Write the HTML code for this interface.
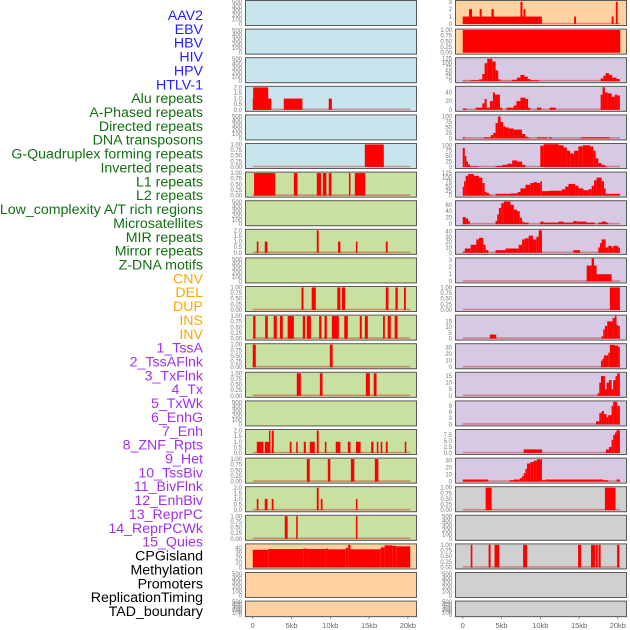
<!DOCTYPE html>
<html><head><meta charset="utf-8">
<style>
html,body{margin:0;padding:0;background:#fff;}
svg{display:block;font-family:"Liberation Sans",sans-serif;}
</style></head>
<body>
<svg id="chart" width="630" height="630" viewBox="0 0 630 630" xmlns="http://www.w3.org/2000/svg"></svg>
<script>
// ---------- labels ----------
const labels = ["AAV2","EBV","HBV","HIV","HPV","HTLV-1","Alu repeats","A-Phased repeats","Directed repeats","DNA transposons","G-Quadruplex forming repeats","Inverted repeats","L1 repeats","L2 repeats","Low_complexity A/T rich regions","Microsatellites","MIR repeats","Mirror repeats","Z-DNA motifs","CNV","DEL","DUP","INS","INV","1_TssA","2_TssAFlnk","3_TxFlnk","4_Tx","5_TxWk","6_EnhG","7_Enh","8_ZNF_Rpts","9_Het","10_TssBiv","11_BivFlnk","12_EnhBiv","13_ReprPC","14_ReprPCWk","15_Quies","CPGisland","Methylation","Promoters","ReplicationTiming","TAD_boundary"];
const labelGroups = [6,13,5,15,5];
const groupColors = ["#1f1fff","#127012","#ffa500","#a030f0","#000000"];

// ---------- x axis ----------
const xTicks = [0,5,10,15,20];
const xTickLabels = ["0","5kb","10kb","15kb","20kb"];
const dataEnd = 20.3;

// ---------- y tick arrays ----------
const t500 = [0,100,200,300,400,500];
const t2 = [0,0.5,1.0,1.5,2.0];
const t2Labels = ["0.0","0.5","1.0","1.5","2.0"];
const t1 = [0,0.25,0.5,0.75,1.0];
const t1Labels = ["0.00","0.25","0.50","0.75","1.00"];

// ---------- left column data: [startKb, endKb, value] ----------
const L_alu = [[0,2.4,1],[0.05,2.0,2],[4.0,6.4,1],[9.8,10.2,1]];
const L_gquad = [[14.45,16.9,1]];
const L_l1 = [[0.17,2.9,1],[5.3,5.77,1],[8.26,8.8,1],[9.03,9.5,1],[9.8,10.15,1],[12.4,12.6,1],[13.16,14.5,1]];
const L_mir = [[0.52,0.73,1],[1.55,1.9,1],[8.26,8.5,2],[11.0,11.3,1],[13.3,13.5,1],[17.16,17.4,1]];
const L_del = [[6.28,6.54,1],[7.6,8.13,1],[10.9,11.3,1],[11.5,11.9,1],[17.16,17.5,1],[18.4,18.7,1],[19.5,19.74,1]];
const L_ins = [[0.05,0.35,1],[1.6,1.94,1],[2.7,3.1,1],[3.5,3.87,1],[4.5,5.3,1],[6.45,6.75,1],[6.97,7.5,1],[8.56,8.86,1],[9.25,9.55,1],[10.2,11.1,1],[11.8,12.26,1],[13.8,14.06,1],[14.45,14.84,1],[16.8,17.03,1],[17.4,17.8,1],[18.3,18.67,1]];
const L_tssa = [[0,0.39,1],[9.94,10.3,1]];
const L_tx = [[5.68,6.2,1],[8.65,9.0,1],[14.58,15.1,1],[15.6,15.96,1]];
const L_enh = [[0.52,1.38,1],[1.55,2.19,1],[2.1,2.28,2],[2.45,2.7,2],[4.77,5.0,1],[5.6,5.8,1],[6.58,6.84,1],[7.35,8.0,1],[8.26,8.5,2],[9.3,9.5,1],[10.7,11.3,1],[12.26,12.6,1],[13.3,13.9,1],[15.27,15.57,1],[16.0,16.2,1],[16.5,16.7,1],[17.16,17.4,1],[19.6,19.8,1]];
const L_het = [[6.97,7.35,1],[9.68,10.0,1],[12.65,13.1,1],[15.74,16.2,1]];
const L_biv = [[0.52,0.73,1],[1.55,1.9,1],[2.45,2.67,1],[8.26,8.5,2],[8.77,9.0,1],[13.3,13.5,1]];
const L_repr = [[4.13,4.5,1],[5.6,5.8,1],[13.3,13.5,1]];
const L_cpg = [[0,2,36],[2,6.5,37.5],[6.5,7,38.5],[7,9.4,37.5],[9.4,9.7,38.5],[9.7,12,37],[12,12.3,40],[12.3,12.6,46],[12.6,16.5,37],[16.5,17,41],[17,18,45],[18,18.5,44],[18.5,20.3,43]];

// ---------- right column data ----------
const R_r0 = [[0,10.2,1],[0.8,1.2,2],[2.18,2.44,2],[3.7,4.0,2],[7.44,7.7,3],[7.82,8.08,2],[14.36,14.6,1],[19.2,19.45,1],[19.74,19.97,3]];
const R_r1 = [[0,20.3,1]];
const R_r2 = [[0,1.03,2],[1.03,2.09,5],[2.09,2.52,10],[2.52,2.82,40],[2.82,3.16,100],[3.16,3.8,125],[3.8,4.23,110],[4.23,4.57,60],[4.57,4.87,10],[4.87,6.37,2],[6.37,7.0,8],[7.0,7.44,20],[7.44,7.95,35],[7.95,8.38,25],[8.38,8.72,12],[8.72,9.87,5],[17.78,18.12,15],[18.12,18.42,30],[18.42,18.85,45],[18.85,19.27,35],[19.27,19.83,20],[19.83,20.26,12]];
const R_r3 = [[0,0.51,3],[1.67,2.52,5],[2.52,2.82,15],[2.82,3.08,25],[3.08,3.5,5],[3.5,3.89,20],[3.89,4.15,40],[4.15,4.79,35],[4.79,5.09,5],[5.64,6.58,5],[6.58,6.92,10],[6.92,7.44,20],[7.44,8.08,28],[8.08,8.42,25],[8.42,8.72,5],[9.57,10.13,5],[11.2,12.0,5],[17.78,18.03,35],[18.03,18.33,52],[18.33,18.68,40],[18.68,19.19,38],[19.19,19.62,30],[19.62,19.91,35],[19.91,20.26,33]];
const R_r4 = [[0,0.26,5],[2.74,3.59,5],[3.59,3.93,15],[3.93,4.23,25],[4.23,4.53,70],[4.53,4.87,100],[4.87,5.21,75],[5.21,5.51,55],[5.51,5.94,50],[5.94,6.58,45],[6.58,7.65,40],[7.65,8.08,20],[8.08,8.38,8],[8.38,8.72,3],[9.57,10.85,5],[11.07,11.5,5],[15.21,18.97,5]];
const R_r5 = [[0,0.26,88],[0.26,0.47,50],[0.47,0.68,25],[0.68,0.94,12],[0.94,2.09,3],[4.23,5.09,5],[5.09,5.73,10],[5.73,6.37,15],[6.37,7.0,30],[7.0,7.65,25],[7.65,8.08,10],[10.0,10.43,98],[10.43,12.35,105],[12.35,12.99,100],[12.99,13.42,90],[13.42,13.85,75],[13.85,14.36,62],[14.36,14.91,75],[14.91,15.47,95],[15.47,16.41,100],[16.41,16.84,95],[16.84,17.14,75],[17.14,17.48,40],[17.48,17.91,18],[17.91,18.33,10],[18.33,18.63,3]];
const R_r6 = [[0,0.17,50],[0.17,0.38,80],[0.38,0.68,110],[0.68,1.45,120],[1.45,2.09,110],[2.09,2.52,100],[2.52,2.82,70],[2.82,3.08,20],[3.08,3.38,15],[3.38,3.68,5],[4.23,6.15,10],[6.15,7.09,12],[7.09,7.44,20],[7.44,8.08,40],[8.08,8.72,60],[8.72,9.15,70],[9.15,9.57,75],[9.57,10.0,70],[10.0,10.21,80],[10.21,11.07,25],[11.07,12.78,27],[12.78,13.21,35],[13.21,13.63,50],[13.63,14.49,65],[14.49,14.91,55],[14.91,15.56,40],[15.56,16.2,30],[16.2,16.62,35],[16.62,16.92,55],[16.92,17.26,85],[17.26,17.91,100],[17.91,18.21,80],[18.21,18.42,40],[18.42,20.26,10]];
const R_r7 = [[0,0.38,22],[0.38,0.68,18],[0.68,0.9,10],[4.23,4.44,10],[4.44,4.66,30],[4.66,4.96,50],[4.96,5.3,65],[5.3,6.15,70],[6.15,6.58,60],[6.58,7.0,45],[7.0,7.35,40],[7.35,7.65,20],[7.65,7.86,8],[7.86,8.5,5],[10.0,10.43,8],[10.43,12.35,5],[12.35,12.99,8],[12.99,14.27,5],[14.27,14.7,10],[14.7,15.98,8],[15.98,17.05,5],[17.48,17.91,5],[17.91,18.46,8],[18.46,18.76,5]];
const R_r8 = [[0,0.26,2],[0.26,1.03,8],[1.03,1.75,15],[1.75,2.09,25],[2.09,2.65,28],[2.65,2.95,15],[2.95,3.29,5],[4.23,5.51,5],[5.51,7.22,8],[7.22,7.65,15],[7.65,7.99,25],[7.99,8.5,27],[8.5,9.06,32],[9.06,9.49,25],[9.49,9.79,30],[9.79,10.21,42],[14.27,15.13,5],[17.48,17.69,10],[17.69,17.91,18],[17.91,18.42,25],[18.42,18.76,10],[18.76,19.19,13],[19.19,19.4,10],[19.4,20.04,13],[20.04,20.26,10]];
const R_r9 = [[15.98,16.62,2.2],[16.62,16.92,3.2],[16.92,17.26,2.2],[17.26,19.19,1]];
const R_r10 = [[18.97,20.26,1]];
const R_r11 = [[3.5,4.32,3.5],[17.9,18.12,2],[18.12,18.33,8],[18.33,18.63,11],[18.63,19.32,15],[19.32,19.62,18],[19.62,19.83,20],[19.83,20.04,12],[20.04,20.26,11]];
const R_r12 = [[17.82,18.03,10],[18.03,18.21,13],[18.21,18.76,18],[18.76,18.97,22],[18.97,19.62,34],[19.62,20.04,33],[20.04,20.26,31]];
const R_r13 = [[17.39,17.61,2],[17.61,17.82,10],[17.82,18.33,15],[18.33,18.55,5],[18.55,18.85,10],[18.85,19.19,12],[19.19,19.4,5],[19.4,19.7,12],[19.7,19.91,15],[19.91,20.26,17]];
const R_r14 = [[17.18,17.61,1.5],[17.61,17.91,5.5],[17.91,18.21,6.5],[18.21,18.55,5],[18.55,18.76,3.5],[18.76,19.19,4.5],[19.19,19.4,9],[19.4,19.91,11],[19.91,20.26,9]];
const R_r15 = [[7.86,10.21,1.5],[18.46,18.85,1.5],[18.85,19.19,2.5],[19.19,19.4,5.5],[19.4,19.62,7.5],[19.62,19.83,8.5],[19.83,20.26,9.5]];
const R_r16 = [[0,3.29,3],[6.03,6.58,2],[6.58,7.35,3],[7.35,7.65,5],[7.65,7.86,8],[7.86,8.08,12],[8.08,8.29,18],[8.29,8.72,26],[8.72,9.15,28],[9.15,9.57,30],[9.57,10.21,32],[10.21,10.64,2],[10.64,18.12,3],[18.12,18.76,2],[19.83,20.26,3]];
const R_r17 = [[2.95,3.72,1],[18.33,19.7,1]];
const R_r19 = [[1.03,1.24,1],[3.33,3.59,1],[4.1,4.7,1],[7.78,8.3,1],[14.87,15.26,1],[16.54,17.1,1],[17.18,17.4,1],[17.5,17.78,1],[19.9,20.2,1]];

// ---------- panels ----------
const BLUE="#c8e4ec", GREEN="#c8e0a0", ORANGE="#ffd1a1", PURPLE="#d7c8e3", GREY="#d0d0d0";
const leftBg = [BLUE,BLUE,BLUE,BLUE,BLUE,BLUE,GREEN,GREEN,GREEN,GREEN,GREEN,GREEN,GREEN,GREEN,GREEN,GREEN,GREEN,GREEN,GREEN,ORANGE,ORANGE,ORANGE];
const rightBg = [ORANGE,ORANGE,PURPLE,PURPLE,PURPLE,PURPLE,PURPLE,PURPLE,PURPLE,PURPLE,PURPLE,PURPLE,PURPLE,PURPLE,PURPLE,PURPLE,PURPLE,GREY,GREY,GREY,GREY,GREY];
// [data, ymax, ticks, tickLabels]
const leftPanels = [
 [null,520,t500,null],[null,520,t500,null],[null,520,t500,null],
 [L_alu,2.05,t2,t2Labels],[null,520,t500,null],[L_gquad,1.02,t1,t1Labels],
 [L_l1,1.02,t1,t1Labels],[null,520,t500,null],[L_mir,2.05,t2,t2Labels],[null,520,t500,null],
 [L_del,1.02,t1,t1Labels],[L_ins,1.02,t1,t1Labels],[L_tssa,1.02,t1,t1Labels],[L_tx,1.02,t1,t1Labels],
 [null,520,t500,null],[L_enh,2.05,t2,t2Labels],[L_het,1.02,t1,t1Labels],[L_biv,2.05,t2,t2Labels],
 [L_repr,1.02,t1,t1Labels],[L_cpg,47,[0,10,20,30,40],null],[null,520,t500,null],[null,520,t500,null]
];
const rightPanels = [
 [R_r0,3.1,[0,1,2,3],null],[R_r1,1.02,t1,t1Labels],[R_r2,128,[0,25,50,75,100,125],null],
 [R_r3,53,[0,20,40],null],[R_r4,105,[0,25,50,75,100],null],[R_r5,106,[0,25,50,75,100],null],
 [R_r6,128,[0,25,50,75,100,125],null],[R_r7,71,[0,20,40,60],null],[R_r8,43,[0,10,20,30,40],null],
 [R_r9,3.2,[0,1,2,3],null],[R_r10,1.02,t1,t1Labels],[R_r11,20,[0,5,10,15],null],
 [R_r12,35,[0,10,20,30],null],[R_r13,17.5,[0,5,10,15],null],[R_r14,11.2,[0,3,6,9],null],
 [R_r15,9.6,[0,2.5,5,7.5],["0.0","2.5","5.0","7.5"]],[R_r16,33,[0,10,20,30],null],
 [R_r17,1.02,t1,t1Labels],[null,520,t500,null],[R_r19,1.02,t1,t1Labels],[null,520,t500,null],[null,520,t500,null]
];

// ---------- drawing ----------
const NS="http://www.w3.org/2000/svg";
const svg=document.getElementById('chart');
function mk(tag,attrs,parent){const e=document.createElementNS(NS,tag);for(const k in attrs)e.setAttribute(k,attrs[k]);(parent||svg).appendChild(e);return e;}
const panelX=[245,455], panelW=171, xMin=-1.0, xMax=21.05;
function xScale(kb,col){return panelX[col]+(kb-xMin)*panelW/(xMax-xMin);}
function rowTop(r){return r*28.6;}
function rowH(r){return r===21?15.5:25;}
function yScale(v,r,ymax){const t=rowTop(r),h=rowH(r);return t+h-1-(v/ymax)*(h-2);}

// labels
let li=0;
labelGroups.forEach((n,g)=>{for(let k=0;k<n;k++){
  const t=mk('text',{x:203,y:15+li*13.86+5,'text-anchor':'end','font-size':'14.2',fill:groupColors[g]});
  t.textContent=labels[li];
  
  
  li++;}});

function drawPanel(col,r,p,bg){
  const [data,ymax,ticks,tl]=p;
  const g=mk('g',{});
  
  
  const t=rowTop(r),h=rowH(r);
  mk('rect',{x:panelX[col]+1,y:t+1,width:panelW,height:h,fill:'#9a9a9a'},g);
  const bgR=mk('rect',{x:panelX[col]+0.5,y:t+0.5,width:panelW,height:h,fill:bg,stroke:'#5a5a5a','stroke-width':1},g);
  
  
  // y ticks
  ticks.forEach((v,i)=>{
    const y=yScale(v,r,ymax);
    const tx=mk('text',{x:panelX[col]-3,y:y+2,'text-anchor':'end','font-size':'6',fill:'#777'},g);
    tx.textContent=tl?tl[i]:String(v);
    
    
  });
  if(data){
    mk('line',{x1:xScale(0,col),x2:xScale(dataEnd,col),y1:yScale(0,r,ymax)-0.5,y2:yScale(0,r,ymax)-0.5,stroke:'rgba(200,40,40,0.45)','stroke-width':1.6},g);
    data.forEach(s=>{
      const x0=xScale(s[0],col),x1=xScale(s[1],col),y=yScale(s[2],r,ymax),y0=yScale(0,r,ymax);
      const b=mk('rect',{x:x0,y:y,width:Math.max(x1-x0,1),height:y0-y,fill:'#ff0000'},g);
      
      
    });
  }
}
leftPanels.forEach((p,r)=>drawPanel(0,r,p,leftBg[r]));
rightPanels.forEach((p,r)=>drawPanel(1,r,p,rightBg[r]));

// x axes
[0,1].forEach(col=>{
  xTicks.forEach((v,i)=>{
    const x=xScale(v,col);
    mk('line',{x1:x,x2:x,y1:617,y2:619,stroke:'#777','stroke-width':0.8});
    const t=mk('text',{x:x,y:628,'text-anchor':'middle','font-size':'7.5',fill:'#666'});
    t.textContent=xTickLabels[i];
    
    
  });
});
</script>
</body></html>
